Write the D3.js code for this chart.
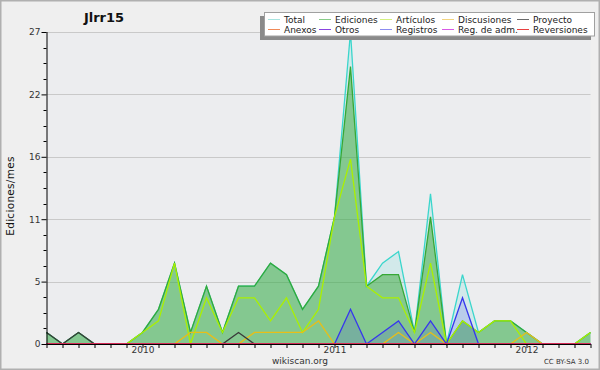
<!DOCTYPE html>
<html>
<head>
<meta charset="utf-8">
<script src="https://cdn.jsdelivr.net/npm/d3@7"></script>
<style>
  html, body { margin: 0; padding: 0; background: #efefef; }
  svg { display: block; }
  text { font-family: "DejaVu Sans", sans-serif; }
</style>
</head>
<body>
<script>
// ---- data ----
const months = [
  "2009-07","2009-08","2009-09","2009-10","2009-11","2009-12",
  "2010-01","2010-02","2010-03","2010-04","2010-05","2010-06",
  "2010-07","2010-08","2010-09","2010-10","2010-11","2010-12",
  "2011-01","2011-02","2011-03","2011-04","2011-05","2011-06",
  "2011-07","2011-08","2011-09","2011-10","2011-11","2011-12",
  "2012-01","2012-02","2012-03","2012-04","2012-05"
];
const total       = [1,0,1,0,0,0, 1,3,7,1,5,1, 5,5,7,6,3,5, 11,27,5,7,8,1, 13,0,6,1,2,2, 1,0,0,0,1];
const ediciones   = [1,0,1,0,0,0, 1,3,7,1,5,1, 5,5,7,6,3,5, 11,24,5,6,6,1, 11,0,2,1,2,2, 1,0,0,0,1];
const articulos   = [0,0,0,0,0,0, 1,2,7,0,4,1, 4,4,2,4,1,3, 11,16,5,4,4,1, 7,0,2,1,2,2, 0,0,0,0,1];
const discusiones = [0,0,0,0,0,0, 0,0,0,1,1,0, 0,1,1,1,1,2, 0,0,0,0,1,0, 1,0,0,0,0,0, 1,0,0,0,0];
const proyecto    = [1,0,1,0,0,0, 0,0,0,0,0,0, 1,0,0,0,0,0, 0,0,0,0,0,0, 0,0,0,0,0,0, 0,0,0,0,0];
const anexos      = [0,0,0,0,0,0, 0,0,0,0,0,0, 0,0,0,0,0,0, 0,0,0,0,0,0, 0,0,0,0,0,0, 0,0,0,0,0];
const otros       = [0,0,0,0,0,0, 0,0,0,0,0,0, 0,0,0,0,0,0, 0,0,0,0,0,0, 0,0,0,0,0,0, 0,0,0,0,0];
const registros   = [0,0,0,0,0,0, 0,0,0,0,0,0, 0,0,0,0,0,0, 0,3,0,1,2,0, 2,0,4,0,0,0, 0,0,0,0,0];
const regAdm      = [0,0,0,0,0,0, 0,0,0,0,0,0, 0,0,0,0,0,0, 0,0,0,0,0,0, 0,0,0,0,0,0, 0,0,0,0,0];
const reversiones = [0,0,0,0,0,0, 0,0,0,0,0,0, 0,0,0,0,0,0, 0,0,0,0,0,0, 0,0,0,0,0,0, 0,0,0,0,0];
const yMax = 27;
const yTickLabels = ["0","5","11","16","22","27"];
const legendNames = ["Total","Ediciones","Artículos","Discusiones","Proyecto",
                     "Anexos","Otros","Registros","Reg. de adm.","Reversiones"];
const title = "Jlrr15";
const yTitle = "Ediciones/mes";

// ---- styles ----
const series = [
  {name:"Total",        values: total,       color:"#3ad6cc", legend:"#a8e4e0", fill:0.14},
  {name:"Ediciones",    values: ediciones,   color:"#36a836", legend:"#88cc88", fill:0.5},
  {name:"Artículos",    values: articulos,   color:"#aaf000", legend:"#d4f080", fill:0},
  {name:"Discusiones",  values: discusiones, color:"#e8be18", legend:"#f2d480", fill:0},
  {name:"Proyecto",     values: proyecto,    color:"#3a3a3a", legend:"#6a6a6a", fill:0},
  {name:"Anexos",       values: anexos,      color:"#f06828", legend:"#f08a58", fill:0},
  {name:"Otros",        values: otros,       color:"#7a30e0", legend:"#8a44e0", fill:0},
  {name:"Registros",    values: registros,   color:"#3636ee", legend:"#8c8cf0", fill:0.16},
  {name:"Reg. de adm.", values: regAdm,      color:"#cc30e0", legend:"#d85ae6", fill:0},
  {name:"Reversiones",  values: reversiones, color:"#e02828", legend:"#e84040", fill:0}
];

const W = 600, H = 370;
const svg = d3.select("body").append("svg").attr("width", W).attr("height", H);

// frame
svg.append("rect").attr("x",0.5).attr("y",0.5).attr("width",W-1).attr("height",H-1)
  .attr("fill","#efefef").attr("stroke","#b0b0b0").attr("stroke-width",2);

const L = 46.5, R = 590.5, T = 32, B = 344;
const x = d3.scaleLinear().domain([0, months.length-1]).range([L, R]);
const y = d3.scaleLinear().domain([0, yMax]).range([B, T]);

// plot bg
svg.append("rect").attr("x",L).attr("y",T).attr("width",R-L).attr("height",B-T).attr("fill","#ecedef");

// gridlines
const majors = d3.range(0, 6).map(k => yMax*k/5);
svg.append("g").selectAll("line").data(majors.slice(1)).join("line")
  .attr("x1",L).attr("x2",R).attr("y1",d=>Math.round(y(d))+0.5).attr("y2",d=>Math.round(y(d))+0.5)
  .attr("stroke","#c9c9c9").attr("stroke-width",1);

// fills
const area = d3.area().x((d,i)=>x(i)).y0(y(0)).y1(d=>y(d));
const line = d3.line().x((d,i)=>x(i)).y(d=>y(d));
series.filter(s=>s.fill>0).forEach(s=>{
  svg.append("path").attr("d", area(s.values)).attr("fill", s.color).attr("fill-opacity", s.fill);
});
// lines
series.forEach(s=>{
  svg.append("path").attr("d", line(s.values)).attr("fill","none")
    .attr("stroke", s.color).attr("stroke-width", 1.3).attr("stroke-linejoin","miter");
});

// y axis
const yAxis = d3.axisLeft(y).tickValues(majors).tickSize(5)
  .tickFormat((d,i)=>yTickLabels[i]);
const gy = svg.append("g").attr("transform",`translate(${L},0)`).call(yAxis);
gy.select(".domain").attr("stroke","#000").attr("d",`M0.5,${T}V${B}`);
gy.selectAll(".tick line").attr("stroke","#000");
gy.selectAll(".tick text").attr("font-size",9).attr("fill","#333").attr("x",-6)
  .attr("font-family","DejaVu Sans, sans-serif");
const minors = d3.range(0, 21).map(k=>yMax*k/20).filter((d,i)=>i%4!==0);
svg.append("g").selectAll("line").data(minors).join("line")
  .attr("x1",L-3).attr("x2",L).attr("y1",d=>Math.round(y(d))+0.5).attr("y2",d=>Math.round(y(d))+0.5)
  .attr("stroke","#000");

// x axis
const xAxis = d3.axisBottom(x).tickValues(d3.range(months.length)).tickSize(4)
  .tickFormat(i => months[i].endsWith("-01") ? months[i].slice(0,4) : "");
const gx = svg.append("g").attr("transform",`translate(0,${B})`).call(xAxis);
gx.select(".domain").attr("stroke","#000").attr("d",`M${L},0.5H${R}`);
gx.selectAll(".tick line").attr("stroke","#000");
gx.selectAll(".tick text").attr("font-size",9).attr("fill","#333").attr("y",3)
  .attr("font-family","DejaVu Sans, sans-serif");

// title
svg.append("text").attr("x",104).attr("y",22).attr("text-anchor","middle")
  .attr("font-size",13).attr("font-weight","bold").attr("fill","#111").text(title);

// y title
svg.append("text").attr("transform","translate(14,196) rotate(-90)").attr("text-anchor","middle")
  .attr("font-size",10.5).attr("fill","#111").attr("letter-spacing",0.3).text(yTitle);

// footer
svg.append("text").attr("x",300).attr("y",364).attr("text-anchor","middle")
  .attr("font-size",9).attr("fill","#333").text("wikiscan.org");
svg.append("text").attr("x",589).attr("y",364).attr("text-anchor","end")
  .attr("font-size",7).attr("fill","#333").text("CC BY-SA 3.0");

// legend
const lg = svg.append("g");
lg.append("rect").attr("x",260).attr("y",16).attr("width",331).attr("height",24).attr("fill","#8a8a8a");
lg.append("rect").attr("x",264.5).attr("y",12.5).attr("width",330).attr("height",23.5)
  .attr("fill","#ffffff").attr("stroke","#a0a0a0");
const colX = [268, 319, 380, 442, 517];
series.forEach((s,i)=>{
  const c = i%5, r = Math.floor(i/5);
  const yy = 19.5 + r*10;
  lg.append("line").attr("x1",colX[c]).attr("x2",colX[c]+12).attr("y1",yy).attr("y2",yy)
    .attr("stroke",s.legend).attr("stroke-width",1);
  lg.append("text").attr("x",colX[c]+16).attr("y",yy+3.5).attr("font-size",9)
    .attr("fill","#222").text(legendNames[i]);
});
</script>
</body>
</html>
